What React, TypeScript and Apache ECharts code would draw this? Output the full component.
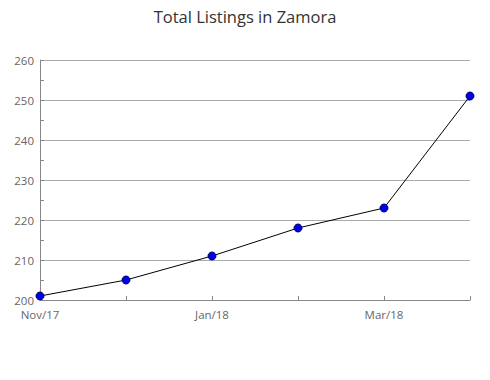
import React, { useEffect, useRef } from "react";
import * as echarts from "echarts";

const categories = ["Nov/17", "Dec/17", "Jan/18", "Feb/18", "Mar/18", "Apr/18"];
const listings = [201, 205, 211, 218, 223, 251];

export default function App() {
  const ref = useRef<HTMLDivElement>(null);
  useEffect(() => {
    if (!ref.current) return;
    const chart = echarts.init(ref.current, undefined, { renderer: "svg" });
    chart.setOption({
      animation: false,
      title: {
        text: "Total Listings in Zamora",
        left: "center",
        top: 3,
        textStyle: { fontFamily: "Open Sans", fontSize: 16.5, fontWeight: "normal", color: "#333" },
      },
      grid: { left: 40, right: 20, top: 60, bottom: 80, containLabel: false },
      xAxis: {
        type: "category",
        data: categories,
        boundaryGap: false,
        axisLine: { lineStyle: { color: "#888", width: 1 } },
        axisTick: { show: true, inside: true, length: 4, interval: 0, lineStyle: { color: "#888" } },
        axisLabel: { interval: 1, color: "#666", fontFamily: "Open Sans", fontSize: 11.5, margin: 8 },
        splitLine: { show: false },
      },
      yAxis: {
        type: "value",
        min: 200,
        max: 260,
        interval: 10,
        axisLine: { show: true, lineStyle: { color: "#888", width: 1 } },
        axisTick: { show: true, inside: true, length: 4, lineStyle: { color: "#888" } },
        minorTick: { show: true, splitNumber: 2, length: 4, lineStyle: { color: "#888" } },
        axisLabel: { color: "#666", fontFamily: "Open Sans", fontSize: 11.5, margin: 6, verticalAlign: "middle", lineHeight: 12, padding: [0, 0, 3, 0] },
        splitLine: { show: true, lineStyle: { color: "#aaa", width: 1 } },
      },
      series: [
        {
          type: "line",
          data: listings,
          symbol: "circle",
          symbolSize: 8,
          itemStyle: { color: "#0000ee", borderColor: "#000066", borderWidth: 1 },
          lineStyle: { color: "#000", width: 1 },
        },
      ],
    });
    return () => chart.dispose();
  }, []);
  return <div ref={ref} style={{ width: 490, height: 380, position: "absolute", left: 0, top: 0 }} />;
}
